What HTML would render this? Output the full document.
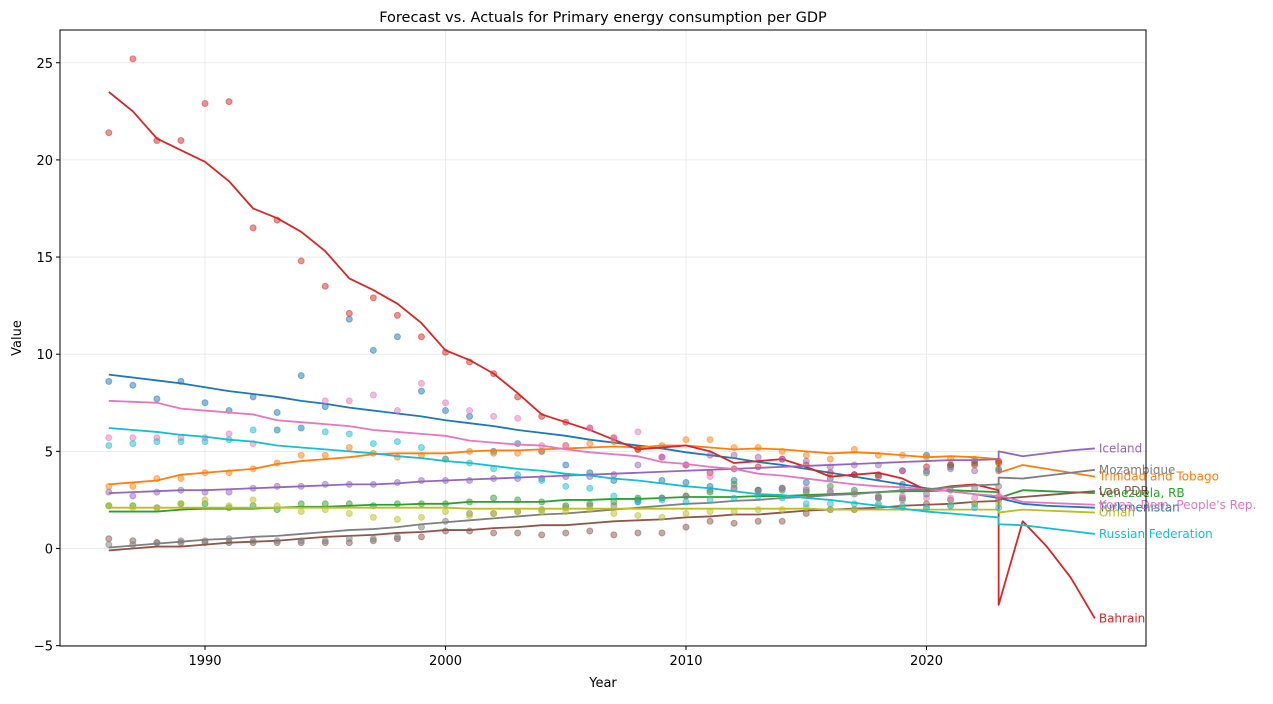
<!DOCTYPE html>
<html><head><meta charset="utf-8"><style>
body{margin:0;background:#fff;font-family:"Liberation Sans","DejaVu Sans",sans-serif;}
svg text{font-family:"DejaVu Sans","Liberation Sans",sans-serif;}
</style></head><body>
<svg id="chart" width="1273" height="699" viewBox="0 0 1273 699" xmlns="http://www.w3.org/2000/svg"></svg>
<script>
const years=[];for(let y=1986;y<=2023;y++)years.push(y);
const forecastYears=[2023,2024,2025,2026,2027];
const seriesNames=["Turkmenistan","Trinidad and Tobago","Venezuela, RB","Bahrain","Iceland","Lao PDR","Korea, Dem. People's Rep.","Mozambique","Oman","Russian Federation"];
const seriesColors=["#1f77b4","#ff7f0e","#2ca02c","#d62728","#9467bd","#8c564b","#e377c2","#7f7f7f","#bcbd22","#17becf"];
const actualTurkmenistan=[8.6,8.4,7.7,8.6,7.5,7.1,7.8,7.0,8.9,7.3,11.8,10.2,10.9,8.1,7.1,6.8,5.0,5.4,5.0,4.3,3.9,3.5,2.5,3.5,3.4,3.2,3.5,3.0,3.1,3.4,3.6,3.8,3.8,3.3,4.8,4.3,4.5,4.5];
const fitTurkmenistan=[8.95,8.8,8.65,8.5,8.3,8.1,7.95,7.8,7.6,7.45,7.25,7.1,6.95,6.8,6.6,6.45,6.3,6.1,5.95,5.8,5.6,5.45,5.3,5.15,4.95,4.8,4.65,4.45,4.3,4.1,3.9,3.7,3.5,3.3,3.1,2.95,2.8,2.6];
const fcTurkmenistan=[2.6,2.3,2.2,2.15,2.1];
const actualTrinidad=[3.2,3.2,3.6,3.6,3.9,3.9,4.1,4.4,4.8,4.8,5.2,4.9,4.7,4.8,4.6,5.0,4.9,4.9,5.0,5.3,5.4,5.5,5.1,5.3,5.6,5.6,5.2,5.2,5.0,4.8,4.6,5.1,4.8,4.8,4.7,4.6,4.6,4.5];
const fitTrinidad=[3.3,3.4,3.5,3.8,3.9,4.0,4.1,4.35,4.5,4.6,4.7,4.85,4.9,4.9,4.9,5.0,5.05,5.05,5.1,5.15,5.2,5.25,5.2,5.3,5.3,5.2,5.1,5.15,5.1,5.0,4.9,4.95,4.9,4.8,4.7,4.75,4.7,4.6];
const fcTrinidad=[3.9,4.3,4.1,3.9,3.7];
const actualVenezuela=[2.2,2.2,2.1,2.3,2.3,2.1,2.2,2.0,2.3,2.3,2.3,2.2,2.3,2.3,2.3,2.4,2.6,2.5,2.4,2.2,2.3,2.4,2.6,2.6,2.7,2.9,3.3,3.0,3.0,2.9,3.2,3.0,2.7,3.0,3.9,4.2,4.4,4.1];
const fitVenezuela=[1.9,1.9,1.9,2.0,2.05,2.05,2.05,2.1,2.15,2.15,2.2,2.25,2.25,2.3,2.3,2.4,2.4,2.4,2.4,2.5,2.5,2.55,2.55,2.6,2.65,2.65,2.65,2.7,2.7,2.75,2.8,2.85,2.9,2.95,2.95,3.0,2.95,2.9];
const fcVenezuela=[2.6,3.0,2.95,2.9,2.85];
const actualBahrain=[21.4,25.2,21.0,21.0,22.9,23.0,16.5,16.9,14.8,13.5,12.1,12.9,12.0,10.9,10.1,9.6,9.0,7.8,6.8,6.5,6.2,5.7,5.1,4.7,4.3,3.9,4.1,4.2,4.6,4.3,3.9,3.8,3.7,4.0,4.2,4.3,4.3,4.4];
const fitBahrain=[23.5,22.5,21.1,20.5,19.9,18.9,17.5,17.0,16.3,15.3,13.9,13.3,12.6,11.6,10.2,9.7,9.0,8.0,6.9,6.5,6.1,5.6,5.1,5.2,5.3,5.0,4.4,4.5,4.6,4.2,3.7,3.8,3.9,3.6,3.0,3.2,3.3,3.0];
const fcBahrain=[-2.9,1.4,0.1,-1.5,-3.6];
const actualIceland=[2.9,2.7,2.9,3.0,2.9,2.9,3.1,3.2,3.2,3.3,3.3,3.3,3.4,3.5,3.5,3.5,3.6,3.6,3.6,3.7,3.7,3.8,4.3,4.7,4.3,4.8,4.8,4.7,4.6,4.5,4.2,4.3,4.3,4.0,4.0,4.1,4.0,4.0];
const fitIceland=[2.85,2.9,2.95,3.0,3.0,3.05,3.1,3.15,3.2,3.25,3.3,3.3,3.35,3.45,3.5,3.55,3.6,3.65,3.7,3.75,3.8,3.85,3.9,3.95,4.0,4.05,4.1,4.15,4.2,4.25,4.3,4.35,4.4,4.45,4.5,4.55,4.55,4.6];
const fcIceland=[5.0,4.75,4.9,5.05,5.15];
const actualLao=[0.5,0.4,0.3,0.3,0.3,0.3,0.3,0.3,0.3,0.3,0.3,0.4,0.5,0.6,0.9,0.9,0.8,0.8,0.7,0.8,0.9,0.7,0.8,0.8,1.1,1.4,1.3,1.4,1.4,1.8,2.0,2.0,2.6,2.6,2.3,2.5,2.3,2.5];
const fitLao=[-0.1,0.0,0.1,0.1,0.2,0.3,0.35,0.4,0.5,0.6,0.65,0.7,0.8,0.85,0.95,0.95,1.05,1.1,1.2,1.2,1.3,1.4,1.45,1.5,1.6,1.65,1.75,1.75,1.85,1.95,2.0,2.05,2.1,2.2,2.25,2.3,2.4,2.45];
const fcLao=[2.55,2.65,2.75,2.85,2.95];
const actualKorea=[5.7,5.7,5.7,5.7,5.7,5.9,5.4,6.1,6.2,7.6,7.6,7.9,7.1,8.5,7.5,7.1,6.8,6.7,5.3,5.3,6.2,5.7,6.0,4.7,4.3,3.7,3.1,2.9,3.1,3.1,3.0,2.9,2.6,2.7,2.6,2.6,2.6,2.7];
const fitKorea=[7.6,7.55,7.5,7.2,7.1,7.0,6.9,6.6,6.5,6.4,6.3,6.1,6.0,5.9,5.8,5.55,5.45,5.35,5.3,5.1,4.95,4.85,4.75,4.45,4.35,4.2,4.1,3.85,3.75,3.6,3.45,3.3,3.2,3.15,3.05,2.95,2.8,2.7];
const fcKorea=[2.75,2.4,2.35,2.3,2.25];
const actualMozambique=[0.2,0.2,0.3,0.4,0.4,0.5,0.4,0.4,0.4,0.4,0.5,0.5,0.6,1.1,1.4,1.8,1.8,1.9,2.0,2.1,2.2,2.2,2.4,2.6,2.7,3.0,3.1,3.0,3.1,3.0,2.9,2.8,2.6,2.5,2.8,3.0,3.1,3.2];
const fitMozambique=[0.05,0.15,0.25,0.35,0.45,0.5,0.6,0.65,0.75,0.85,0.95,1.0,1.1,1.25,1.35,1.45,1.55,1.65,1.75,1.8,1.9,2.0,2.1,2.2,2.3,2.35,2.45,2.5,2.6,2.65,2.75,2.8,2.9,3.0,3.05,3.15,3.25,3.3];
const fcMozambique=[3.65,3.6,3.75,3.9,4.05];
const actualOman=[2.2,2.1,2.1,2.3,2.5,2.2,2.5,2.2,1.9,2.0,1.8,1.6,1.5,1.6,1.9,1.7,1.8,1.9,1.9,1.9,2.0,1.8,1.7,1.6,1.8,1.9,1.9,2.0,2.0,2.1,2.0,2.0,2.2,2.1,2.1,2.2,2.3,2.3];
const fitOman=[2.1,2.1,2.1,2.1,2.1,2.1,2.1,2.1,2.1,2.1,2.1,2.1,2.1,2.1,2.1,2.05,2.05,2.05,2.05,2.05,2.05,2.05,2.05,2.05,2.05,2.05,2.05,2.05,2.05,2.05,2.0,2.0,2.0,2.0,2.0,2.0,2.0,2.0];
const fcOman=[1.85,2.0,1.95,1.9,1.85];
const actualRussia=[5.3,5.4,5.5,5.5,5.5,5.6,6.1,6.1,6.2,6.0,5.9,5.4,5.5,5.2,4.6,4.4,4.1,3.8,3.5,3.2,3.1,2.7,2.4,2.5,2.4,2.5,2.6,2.7,2.6,2.3,2.3,2.3,2.3,2.2,2.1,2.2,2.1,2.1];
const fitRussia=[6.2,6.1,6.0,5.85,5.75,5.6,5.5,5.3,5.2,5.1,5.0,4.9,4.75,4.65,4.5,4.4,4.25,4.1,4.0,3.85,3.75,3.6,3.5,3.35,3.2,3.1,2.95,2.8,2.75,2.6,2.5,2.35,2.2,2.05,1.9,1.8,1.7,1.6];
const fcRussia=[1.25,1.2,1.05,0.9,0.75];
const yTicks=[-5,0,5,10,15,20,25];
const xTicks=[1990,2000,2010,2020];

const actuals=[actualTurkmenistan,actualTrinidad,actualVenezuela,actualBahrain,actualIceland,actualLao,actualKorea,actualMozambique,actualOman,actualRussia];
const fits=[fitTurkmenistan,fitTrinidad,fitVenezuela,fitBahrain,fitIceland,fitLao,fitKorea,fitMozambique,fitOman,fitRussia];
const fcs=[fcTurkmenistan,fcTrinidad,fcVenezuela,fcBahrain,fcIceland,fcLao,fcKorea,fcMozambique,fcOman,fcRussia];

const L=60,R=1146,T=30,B=646;
const x=v=>205+(v-1990)*24.05;
const y=v=>548.5-v*19.43;
const svg=document.getElementById('chart');
const NS='http://www.w3.org/2000/svg';
function mk(tag,attrs,parent){const e=document.createElementNS(NS,tag);for(const k in attrs)e.setAttribute(k,attrs[k]);(parent||svg).appendChild(e);return e;}

const grid=mk('g',{});


xTicks.forEach(t=>mk('line',{x1:x(t),x2:x(t),y1:T,y2:B,stroke:'#e6e6e6','stroke-width':0.8},grid));
yTicks.forEach(t=>mk('line',{x1:L,x2:R,y1:y(t),y2:y(t),stroke:'#e6e6e6','stroke-width':0.8},grid));

seriesNames.forEach((name,i)=>{
  const g=mk('g',{});
  
  
  const c=seriesColors[i];
  actuals[i].forEach((v,j)=>{
    const p=mk('circle',{cx:x(years[j]),cy:y(v),r:3,fill:c,'fill-opacity':0.5,stroke:c,'stroke-opacity':0.5,'stroke-width':1},g);
    
    
  });
  const pts=fits[i].map((v,j)=>x(years[j])+','+y(v)).concat(fcs[i].map((v,j)=>x(forecastYears[j])+','+y(v)));
  const ln=mk('polyline',{points:pts.join(' '),fill:'none',stroke:c,'stroke-width':1.8,'stroke-linejoin':'round'},g);
  
  
  const last=fcs[i][fcs[i].length-1];
  const lb=mk('text',{x:x(2027)+4,y:y(last)+4,fill:c,'font-size':12},g);
  
  
  lb.textContent=name;
});

const fr=mk('rect',{x:L,y:T,width:R-L,height:B-T,fill:'none',stroke:'#000','stroke-width':1});



const ax=mk('g',{'font-size':13,fill:'#000'});


xTicks.forEach(t=>{mk('line',{x1:x(t),x2:x(t),y1:B,y2:B+4,stroke:'#000'},ax);
  const tx=mk('text',{x:x(t),y:B+19,'text-anchor':'middle'},ax);tx.textContent=t;});
yTicks.forEach(t=>{mk('line',{x1:L-4,x2:L,y1:y(t),y2:y(t),stroke:'#000'},ax);
  const tx=mk('text',{x:L-7,y:y(t)+5,'text-anchor':'end'},ax);tx.textContent=(t<0?'\u2212'+(-t):t);});
const xt=mk('text',{x:603,y:687,'text-anchor':'middle','font-size':13});


xt.textContent='Year';
const yt=mk('text',{x:21,y:338,'text-anchor':'middle','font-size':13,transform:'rotate(-90 21 338)'});


yt.textContent='Value';
const tt=mk('text',{x:603,y:22,'text-anchor':'middle','font-size':14.5});


tt.textContent='Forecast vs. Actuals for Primary energy consumption per GDP';
</script>
</body></html>
